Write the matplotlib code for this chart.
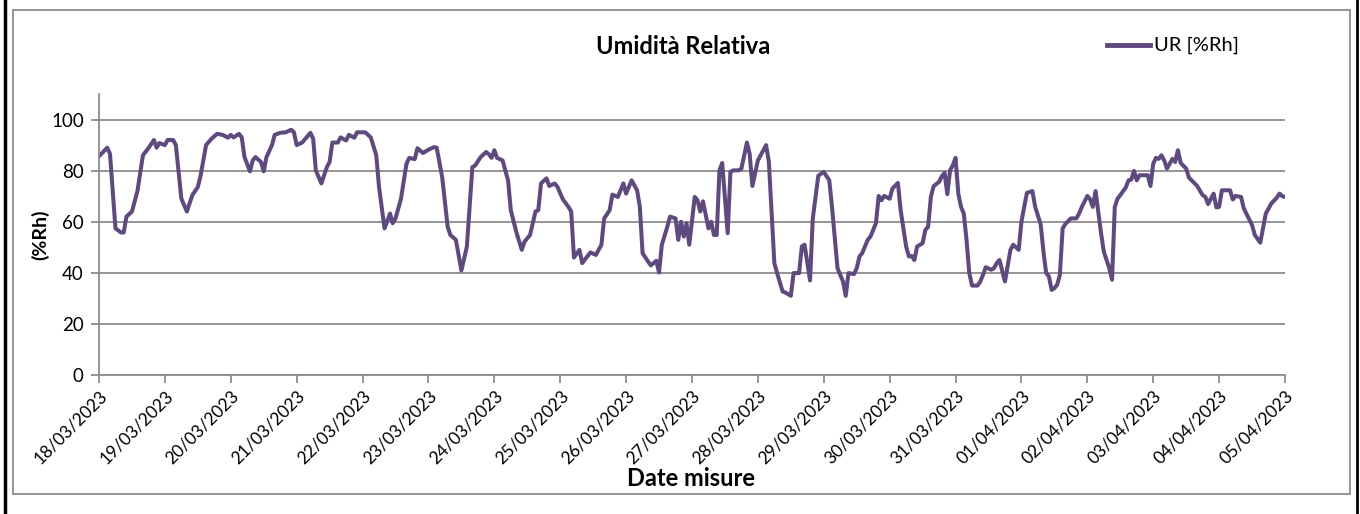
import pandas as pd
import matplotlib
matplotlib.use('Agg')
import matplotlib.pyplot as plt
import matplotlib.dates as mdates
from matplotlib.patches import Rectangle
from matplotlib.lines import Line2D

plt.rcParams['font.family'] = ['Lato', 'DejaVu Sans']

# hours since 18/03/2023 00:00 and relative humidity readings
hours = [0, 3, 4, 6, 8, 9, 10, 12, 14, 16, 18, 20, 21, 22, 24, 25, 27, 28, 30, 32,
         34, 36, 37, 39, 41, 43, 45, 47, 48, 49, 51, 52, 53, 55, 56, 57, 59, 60, 61, 63,
         64, 66, 68, 70, 71, 72, 74, 77, 78, 79, 81, 83, 84, 85, 87, 88, 90, 91, 93, 94,
         97, 99, 101, 102, 104, 106, 107, 108, 110, 112, 113, 115, 116, 118, 120, 122, 123, 125, 127, 128,
         130, 132, 134, 135, 136, 137, 139, 141, 142, 143, 144, 145, 147, 149, 150, 152, 154, 155, 157, 159,
         160, 161, 163, 164, 166, 167, 169, 171, 172, 173, 175, 176, 179, 181, 183, 184, 186, 187, 189, 191,
         192, 194, 196, 197, 198, 200, 201, 203, 204, 205, 207, 208, 210, 211, 212, 213, 214, 215, 217, 218,
         219, 220, 222, 223, 224, 225, 226, 227, 229, 230, 231, 233, 234, 236, 237, 238, 240, 241, 243, 244,
         246, 247, 249, 250, 252, 253, 255, 256, 257, 259, 260, 262, 264, 266, 267, 269, 271, 272, 273, 275,
         276, 277, 278, 280, 281, 282, 283, 284, 285, 286, 288, 289, 291, 292, 294, 295, 296, 297, 298, 300,
         301, 302, 303, 304, 306, 307, 308, 309, 310, 311, 312, 313, 314, 315, 316, 317, 318, 320, 321, 322,
         323, 325, 326, 327, 328, 330, 332, 333, 335, 336, 337, 338, 340, 341, 343, 344, 345, 346, 347, 348,
         349, 350, 351, 352, 354, 356, 357, 358, 360, 361, 362, 363, 365, 366, 368, 369, 370, 371, 372, 374,
         375, 376, 377, 378, 379, 382, 383, 384, 385, 386, 387, 388, 389, 391, 392, 393, 394, 396, 397, 398,
         400, 402, 403, 404, 405, 406, 407, 408, 409, 412, 413, 414, 416, 417, 418, 420, 421, 423, 424, 425,
         427, 429, 430, 431, 432]
ur = [85.6, 89, 86.6, 57.4, 55.8, 55.8, 62, 64, 72, 86, 88.8, 92, 89, 90.8, 90, 92, 92, 90, 69, 64,
      70.4, 73.6, 78, 90, 92.5, 94.4, 94, 92.9, 94, 93, 94.4, 93, 85.3, 79.7, 84, 85.3, 83.4, 79.7, 85.3, 90,
      94, 94.8, 95, 96, 95, 90, 91, 94.8, 92.5, 80, 75, 81.4, 83.4, 91, 91, 93, 91.8, 94, 92.9, 95,
      95, 93, 86, 73.6, 57.4, 63.2, 59.4, 61.3, 69, 82.7, 85, 84.5, 88.8, 86.9, 88.2, 89.2, 89, 77.5, 58, 54.8,
      52.9, 40.9, 50.3, 66, 81.4, 82, 85.3, 87.3, 86.4, 85, 88, 85, 84, 76.2, 64.5, 56, 49, 52.2, 54.8, 64,
      64.5, 75, 77, 74, 75, 73.6, 68.7, 65.8, 64, 46, 49, 43.8, 48, 47, 51, 61.3, 64.5, 70.6, 69.7, 75,
      71, 76.2, 72.3, 65.8, 47.7, 44.4, 42.9, 44.7, 40.1, 50.9, 58, 62, 61.3, 52.9, 60, 54.2, 59.4, 51, 69.7, 68.4,
      64, 68, 57.4, 60, 54.8, 54.8, 80.1, 83, 55.5, 79.5, 80.1, 80.1, 80.8, 91, 86.6, 74, 84, 86, 90, 83.4,
      43.8, 39.9, 32.7, 32.3, 31, 39.9, 39.9, 50.3, 51, 37, 61.3, 78, 79.5, 76.2, 65.8, 41.8, 36.6, 31, 39.9, 39.5,
      41.8, 46.4, 47.7, 52.9, 54.2, 56.8, 59.4, 70.1, 68.4, 70.1, 69, 73, 75.2, 64.5, 50.3, 46.4, 46.6, 45, 50.3, 51.6,
      56.8, 58, 69.7, 73.9, 75.6, 77.8, 79.1, 70.8, 80.1, 82.1, 85, 71, 65.8, 63.2, 52.9, 39.9, 35, 35, 36.6, 39.2,
      42.2, 41.2, 41.8, 43.8, 45, 36.6, 49, 51, 49, 60, 65.8, 71.3, 72, 65.8, 59, 48.5, 39.9, 38.6, 33.3, 34,
      35.3, 39.2, 57.4, 59.1, 61.3, 61.3, 63.2, 65.8, 70.1, 68.8, 65.8, 72, 55.5, 48.3, 41.8, 37.3, 65.8, 69, 70.4, 73.4,
      76.2, 76.5, 79.9, 76.2, 78.2, 78.2, 74, 82.7, 85, 84.6, 86, 84, 80.8, 84.6, 83.4, 88, 83, 80.8, 77.3, 76.2,
      74, 70.4, 69.7, 66.9, 69, 71, 65.6, 65.8, 72.3, 72.3, 68.7, 70.1, 69.7, 65.2, 63, 58.7, 54.8, 51.8, 57.4, 63.2,
      67.1, 69.4, 71, 70, 69.7]

start = pd.Timestamp('2023-03-18')
times = start + pd.to_timedelta(hours, unit='h')
days = pd.date_range('2023-03-18', '2023-04-05', freq='D')

line_color = '#5E4A7E'
grid_color = '#8C8C8C'

fig = plt.figure(figsize=(13.6, 5.14), dpi=100)
ax = fig.add_axes([99 / 1360, 1 - 375 / 514, (1285 - 99) / 1360, (375 - 94) / 514])

ax.plot(times, ur, color=line_color, linewidth=2.9, label='UR [%Rh]', solid_joinstyle='round')

ax.set_xlim(days[0], days[-1])
ax.set_ylim(0, 110)
ax.set_yticks(range(0, 101, 20))
ax.set_xticks(days)
ax.xaxis.set_major_formatter(mdates.DateFormatter('%d/%m/%Y'))
ax.grid(axis='y', color=grid_color, linewidth=1.3)
ax.set_axisbelow(True)

for side in ['top', 'right']:
    ax.spines[side].set_visible(False)
for side in ['left', 'bottom']:
    ax.spines[side].set_color(grid_color)
    ax.spines[side].set_linewidth(1.3)

ax.tick_params(axis='both', colors=grid_color, length=6, width=1.3, labelcolor='black')
ax.tick_params(axis='x', pad=3, labelsize=12.5)
ax.tick_params(axis='y', pad=5, labelsize=13.5)
for lbl in ax.get_xticklabels():
    lbl.set_rotation(45)
    lbl.set_ha('right')
    lbl.set_rotation_mode('anchor')

ax.set_ylabel('(%Rh)', fontsize=14, fontweight='bold', labelpad=1)

fig.text(683 / 1360, 1 - 47 / 514, 'Umidità Relativa', ha='center', va='center',
         fontsize=17, fontweight='bold')
fig.text(691 / 1360, 1 - 478 / 514, 'Date misure', ha='center', va='center',
         fontsize=17, fontweight='bold', zorder=5)

# legend in the top right corner
fig.add_artist(Line2D([1107 / 1360, 1150 / 1360], [1 - 45 / 514] * 2, color=line_color,
                      linewidth=3.5, transform=fig.transFigure))
fig.text(1154 / 1360, 1 - 45 / 514, 'UR [%Rh]', ha='left', va='center', fontsize=14.5)

# chart area border and outer frame
fig.add_artist(Rectangle((13 / 1360, 1 - 494 / 514), (1350 - 13) / 1360, (494 - 10) / 514,
                         transform=fig.transFigure, fill=False, edgecolor=grid_color, linewidth=1.3))
fig.add_artist(Line2D([4.5 / 1360] * 2, [0, 1], color='black', linewidth=2.5, transform=fig.transFigure))
fig.add_artist(Line2D([1356.5 / 1360] * 2, [0, 1], color='black', linewidth=2, transform=fig.transFigure))

fig.savefig('out.png', dpi=100)
